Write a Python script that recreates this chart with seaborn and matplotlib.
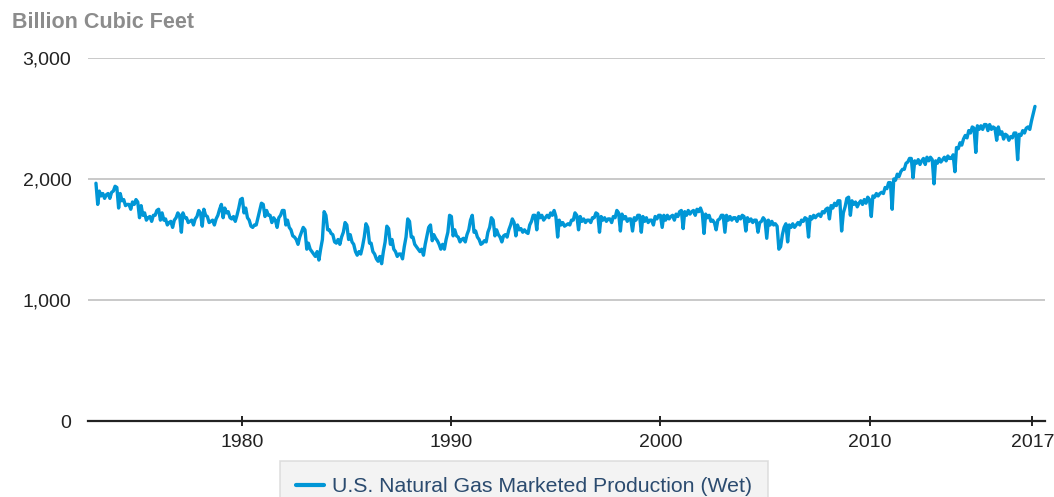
import pandas as pd
import numpy as np
import matplotlib
matplotlib.use("Agg")
import matplotlib.pyplot as plt
from matplotlib.ticker import FuncFormatter
import seaborn as sns

# monthly marketed production (billion cubic feet), Jan..Dec
prod_1973 = [1965, 1790, 1900, 1860, 1880, 1840, 1870, 1880, 1840, 1890, 1900, 1940]
prod_1974 = [1930, 1760, 1880, 1820, 1830, 1780, 1790, 1790, 1750, 1810, 1790, 1830]
prod_1975 = [1810, 1680, 1780, 1700, 1720, 1660, 1680, 1690, 1650, 1700, 1700, 1740]
prod_1976 = [1750, 1660, 1720, 1660, 1670, 1620, 1640, 1650, 1600, 1660, 1680, 1720]
prod_1977 = [1700, 1560, 1720, 1680, 1680, 1640, 1650, 1660, 1620, 1670, 1690, 1740]
prod_1978 = [1720, 1610, 1750, 1700, 1690, 1640, 1650, 1660, 1620, 1670, 1700, 1750]
prod_1979 = [1790, 1680, 1760, 1720, 1730, 1680, 1670, 1690, 1650, 1700, 1760, 1830]
prod_1980 = [1840, 1720, 1760, 1680, 1660, 1610, 1600, 1620, 1620, 1680, 1740, 1800]
prod_1981 = [1790, 1690, 1740, 1700, 1700, 1640, 1680, 1660, 1600, 1680, 1700, 1740]
prod_1982 = [1740, 1620, 1660, 1600, 1580, 1530, 1520, 1500, 1460, 1520, 1560, 1600]
prod_1983 = [1580, 1420, 1470, 1420, 1400, 1380, 1360, 1400, 1330, 1420, 1500, 1730]
prod_1984 = [1700, 1580, 1580, 1550, 1540, 1480, 1470, 1500, 1460, 1520, 1560, 1640]
prod_1985 = [1620, 1500, 1540, 1480, 1460, 1400, 1370, 1400, 1380, 1440, 1520, 1630]
prod_1986 = [1600, 1470, 1470, 1400, 1380, 1340, 1320, 1360, 1300, 1400, 1480, 1610]
prod_1987 = [1590, 1460, 1500, 1420, 1400, 1360, 1380, 1380, 1340, 1440, 1520, 1670]
prod_1988 = [1650, 1520, 1520, 1460, 1440, 1420, 1400, 1420, 1370, 1460, 1530, 1600]
prod_1989 = [1620, 1490, 1540, 1510, 1490, 1460, 1420, 1460, 1420, 1500, 1560, 1700]
prod_1990 = [1690, 1530, 1580, 1530, 1520, 1480, 1500, 1510, 1480, 1540, 1580, 1660]
prod_1991 = [1700, 1560, 1570, 1520, 1500, 1460, 1470, 1490, 1480, 1560, 1600, 1680]
prod_1992 = [1660, 1530, 1580, 1540, 1520, 1480, 1530, 1540, 1520, 1580, 1620, 1670]
prod_1993 = [1640, 1530, 1620, 1580, 1590, 1560, 1580, 1560, 1550, 1620, 1650, 1700]
prod_1994 = [1700, 1580, 1720, 1680, 1700, 1660, 1680, 1700, 1680, 1720, 1700, 1740]
prod_1995 = [1690, 1520, 1660, 1620, 1640, 1610, 1620, 1630, 1620, 1660, 1660, 1720]
prod_1996 = [1700, 1580, 1690, 1650, 1670, 1640, 1660, 1660, 1640, 1680, 1680, 1720]
prod_1997 = [1710, 1560, 1690, 1660, 1680, 1650, 1670, 1670, 1640, 1690, 1680, 1740]
prod_1998 = [1720, 1570, 1710, 1670, 1690, 1650, 1670, 1670, 1570, 1680, 1660, 1700]
prod_1999 = [1700, 1560, 1690, 1650, 1680, 1640, 1660, 1660, 1620, 1690, 1670, 1700]
prod_2000 = [1700, 1600, 1700, 1660, 1700, 1670, 1690, 1700, 1660, 1710, 1690, 1730]
prod_2001 = [1740, 1590, 1730, 1700, 1740, 1710, 1730, 1740, 1700, 1750, 1730, 1760]
prod_2002 = [1720, 1550, 1710, 1680, 1700, 1650, 1660, 1640, 1580, 1660, 1670, 1700]
prod_2003 = [1700, 1560, 1700, 1660, 1690, 1660, 1680, 1680, 1650, 1690, 1670, 1700]
prod_2004 = [1690, 1570, 1680, 1650, 1670, 1640, 1660, 1660, 1560, 1640, 1650, 1680]
prod_2005 = [1660, 1510, 1660, 1620, 1650, 1620, 1630, 1610, 1420, 1440, 1540, 1600]
prod_2006 = [1630, 1480, 1620, 1600, 1630, 1600, 1620, 1640, 1620, 1660, 1650, 1680]
prod_2007 = [1670, 1520, 1690, 1670, 1700, 1680, 1700, 1710, 1690, 1730, 1720, 1750]
prod_2008 = [1760, 1670, 1780, 1760, 1800, 1780, 1820, 1820, 1570, 1720, 1770, 1840]
prod_2009 = [1850, 1700, 1820, 1790, 1810, 1770, 1800, 1820, 1790, 1830, 1800, 1850]
prod_2010 = [1830, 1690, 1860, 1850, 1880, 1860, 1880, 1890, 1880, 1930, 1920, 1970]
prod_2011 = [1970, 1750, 2000, 1990, 2040, 2020, 2060, 2080, 2080, 2130, 2140, 2170]
prod_2012 = [2170, 2010, 2150, 2130, 2160, 2120, 2150, 2170, 2120, 2180, 2150, 2180]
prod_2013 = [2160, 1960, 2150, 2130, 2170, 2140, 2160, 2180, 2150, 2190, 2170, 2170]
prod_2014 = [2200, 2060, 2260, 2250, 2300, 2280, 2330, 2360, 2340, 2400, 2380, 2430]
prod_2015 = [2420, 2220, 2440, 2410, 2440, 2410, 2450, 2450, 2400, 2450, 2410, 2430]
prod_2016 = [2420, 2320, 2430, 2370, 2390, 2330, 2370, 2360, 2320, 2350, 2340, 2380]
prod_2017 = [2380, 2160, 2370, 2360, 2400, 2380, 2420, 2430, 2410, 2480, 2540, 2600]

yearly = [prod_1973, prod_1974, prod_1975, prod_1976, prod_1977, prod_1978, prod_1979,
          prod_1980, prod_1981, prod_1982, prod_1983, prod_1984, prod_1985, prod_1986,
          prod_1987, prod_1988, prod_1989, prod_1990, prod_1991, prod_1992, prod_1993,
          prod_1994, prod_1995, prod_1996, prod_1997, prod_1998, prod_1999, prod_2000,
          prod_2001, prod_2002, prod_2003, prod_2004, prod_2005, prod_2006, prod_2007,
          prod_2008, prod_2009, prod_2010, prod_2011, prod_2012, prod_2013, prod_2014,
          prod_2015, prod_2016, prod_2017]

tick_dates = ["1980-01-01", "1990-01-01", "2000-01-01", "2010-01-01", "2017-10-15"]
tick_labels = ["1980", "1990", "2000", "2010", "2017"]
series_name = "U.S. Natural Gas Marketed Production (Wet)"

values = [v for year in yearly for v in year]
dates = pd.date_range("1973-01-01", periods=len(values), freq="MS")
df = pd.DataFrame({"Date": dates, "Production": values})

sns.set_theme(style="white")
plt.rcParams['font.family'] = ['Liberation Sans', 'DejaVu Sans']

fig = plt.figure(figsize=(10.54, 4.97), dpi=100)
ax = fig.add_axes([88/1054, 1 - 421/497, (1045 - 88)/1054, (421 - 58)/497])

line_color = "#0096d6"
sns.lineplot(data=df, x="Date", y="Production", ax=ax, color=line_color,
             linewidth=2.4, label=series_name, legend=False)

ax.set_ylim(0, 3000)
ax.set_xlim(pd.Timestamp("1972-08-15"), pd.Timestamp("2018-05-25"))
ax.set_yticks([0, 1000, 2000, 3000])
ax.yaxis.set_major_formatter(FuncFormatter(lambda v, _: f"{int(v):,}"))
ax.set_xticks(pd.to_datetime(tick_dates))
ax.set_xticklabels(tick_labels)

# gridlines only on y
ax.grid(axis="y", color="#c0c0c0", linewidth=1.2)
ax.grid(axis="x", visible=False)
for side in ["top", "right", "left"]:
    ax.spines[side].set_visible(False)
ax.spines["bottom"].set_color("#222222")
ax.spines["bottom"].set_linewidth(1.6)
ax.tick_params(axis="x", length=7, width=1.4, color="#222222", direction="inout",
               labelsize=14, labelcolor="#222222", pad=6, bottom=True)
ax.tick_params(axis="y", length=0, labelsize=14, labelcolor="#222222", pad=12)
ax.set_xlabel("")
ax.set_ylabel("")

fig.text(12/1054, 1 - 22/497, "Billion Cubic Feet", fontsize=15.5, fontweight="bold",
         color="#8c8c8c", va="center", ha="left")

leg = fig.legend(handles=ax.get_lines(), labels=[series_name],
                 loc="upper left", bbox_to_anchor=(280/1054, 1 - 461/497),
                 fontsize=15.3, frameon=True, fancybox=False, handlelength=1.3,
                 handletextpad=0.4, borderpad=0.75, borderaxespad=0)
leg.get_frame().set_facecolor("#f0f0f0")
leg.get_frame().set_edgecolor("#d8d8d8")
leg.get_frame().set_linewidth(1.2)
for t in leg.get_texts():
    t.set_color("#2b4b6f")
for h in leg.legend_handles:
    h.set_linewidth(3)

fig.savefig("out.png", dpi=100)
